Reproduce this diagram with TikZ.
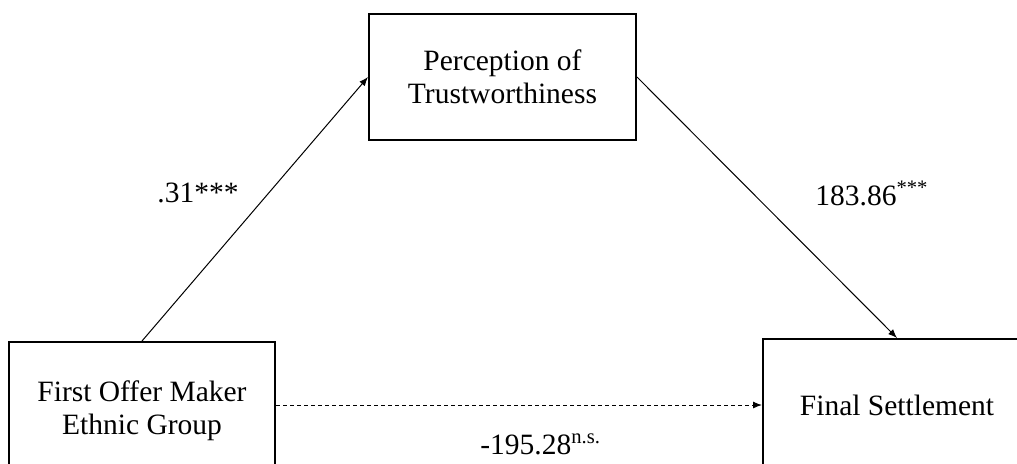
\documentclass[tikz,border=0pt]{standalone}
\usepackage{fontspec}
\setmainfont{Liberation Serif}
\usepackage{tikz}
\usetikzlibrary{arrows.meta}
\usetikzlibrary{positioning}

\tikzset{
  varbox/.style={draw, line width=1pt, align=center, inner sep=0pt,
    font=\fontsize{14.75}{16.5}\selectfont},
  path/.style={line width=0.5pt, -{Latex[length=4.5pt,width=3.5pt]}},
  coef/.style={anchor=base west, inner sep=0pt, font=\fontsize{14.75}{16.5}\selectfont}
}

\begin{document}
\begin{tikzpicture}[x=0.5pt, y=-0.5pt]
\useasboundingbox (0,0) rectangle (1017,463);
\clip (0,0) rectangle (1017,463);
\node[varbox, minimum width=133.5pt, minimum height=63pt] (trust) at (502.5,77) {Perception of\\Trustworthiness};
\node[varbox, minimum width=133pt, minimum height=69pt] (ethnic) at (142,411) {First Offer Maker\\Ethnic Group};
\node[varbox, minimum width=134pt, minimum height=66pt] (settle) at (897,405) {Final Settlement};
\node[coef] (a) at (157,202) {.31***};
\node[coef] (b) at (815,205) {183.86\textsuperscript{***}};
\node[coef] (c) at (480,454) {-195.28\textsuperscript{n.s.}};
\draw[path] (ethnic.north) -- (trust.west);
\draw[path] (trust.east) -- (settle.north);
\draw[path, dash pattern=on 2pt off 1.5pt] (ethnic.east |- settle.west) -- (settle.west);
\end{tikzpicture}
\end{document}
